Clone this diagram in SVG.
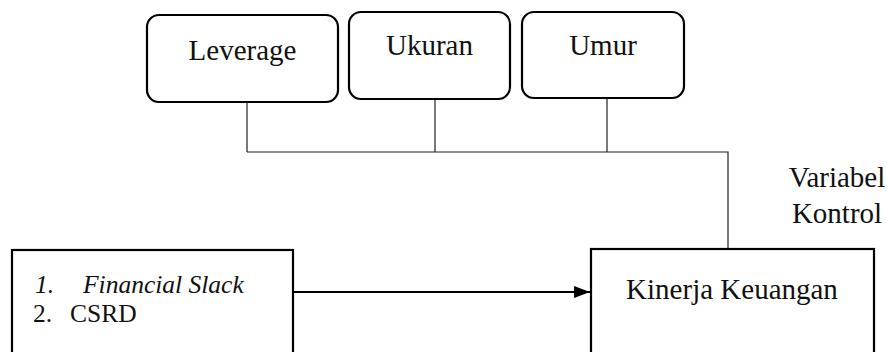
<svg xmlns="http://www.w3.org/2000/svg" width="887" height="352" viewBox="0 0 887 352">
<style>
.rb{fill:#fff;stroke:#000;stroke-width:2.2}
.bx{fill:#fff;stroke:#000;stroke-width:2.2}
.t{font-family:'Liberation Serif','Times New Roman','DejaVu Serif',serif;font-size:29px;fill:#111;text-anchor:middle}
.l{font-family:'Liberation Serif','Times New Roman','DejaVu Serif',serif;font-size:25.5px;fill:#111}
.c{fill:none;stroke:#222;stroke-width:1.2}
.a{fill:none;stroke:#000;stroke-width:2.2}
</style>
<defs>
<marker id="ah" markerWidth="16" markerHeight="12" refX="16" refY="6" orient="auto" markerUnits="userSpaceOnUse">
<path d="M0,0 L16,6 L0,12 Z" fill="#000"/>
</marker>
</defs>
<g id="connectors">
<path class="c" d="M247,102 V152 M435,99 V152 M607,98 V152 M247,152 H728 V249"/>
<path class="a" d="M293,292 H590" marker-end="url(#ah)"/>
</g>
<g id="leverage">
<rect class="rb" x="147" y="15" width="191" height="87" rx="12"/>
<text class="t" x="242.5" y="60" font-family="Liberation Serif, serif">Leverage</text>
</g>
<g id="ukuran">
<rect class="rb" x="349" y="12" width="161" height="87" rx="12"/>
<text class="t" x="429.5" y="55" font-family="Liberation Serif, serif">Ukuran</text>
</g>
<g id="umur">
<rect class="rb" x="522" y="12" width="162" height="86" rx="12"/>
<text class="t" x="603" y="55" font-family="Liberation Serif, serif">Umur</text>
</g>
<g id="variabel-kontrol">
<text class="t" x="837" y="187" font-family="Liberation Serif, serif">Variabel</text>
<text class="t" x="837" y="223" font-family="Liberation Serif, serif">Kontrol</text>
</g>
<g id="independen">
<rect class="bx" x="12" y="250" width="281" height="120"/>
<text class="l" x="35" y="293" font-style="italic" font-family="Liberation Serif, serif">1.</text>
<text class="l" x="83" y="293" font-style="italic" font-family="Liberation Serif, serif">Financial Slack</text>
<text class="l" x="33" y="322" font-family="Liberation Serif, serif">2.</text>
<text class="l" x="70" y="322" font-family="Liberation Serif, serif">CSRD</text>
</g>
<g id="kinerja">
<rect class="bx" x="591" y="249" width="283" height="120"/>
<text class="t" x="732" y="299" font-family="Liberation Serif, serif">Kinerja Keuangan</text>
</g>
</svg>
